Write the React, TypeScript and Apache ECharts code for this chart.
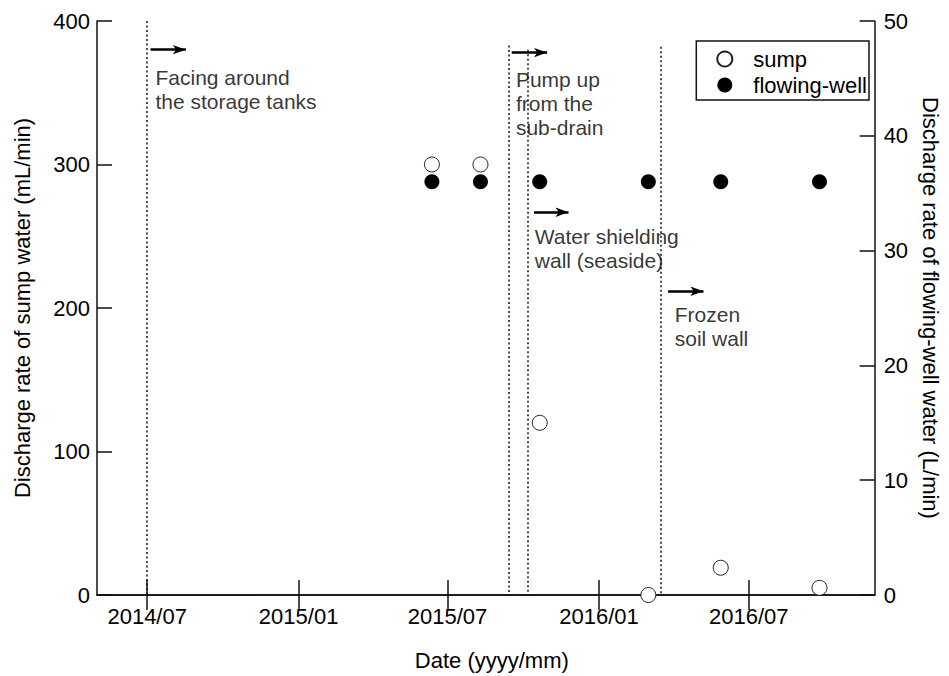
import React, { useEffect, useRef } from "react";
import * as echarts from "echarts";

// ---- data ----
const sampleDates = ["2015-06-12", "2015-08-10", "2015-10-21", "2016-03-01", "2016-05-28", "2016-09-25"];
const sumpValues = [300, 300, 120, 0, 19, 5];
const wellValues = [36, 36, 36, 36, 36, 36];
const xTickDates = ["2014-07-01", "2015-01-01", "2015-07-01", "2016-01-01", "2016-07-01"];
const xTickLabels = ["2014/07", "2015/01", "2015/07", "2016/01", "2016/07"];
const eventDates = ["2014-07-01", "2015-09-13", "2015-10-06", "2016-03-16"];
const eventLabels = [
  "Facing around\nthe storage tanks",
  "Pump up\nfrom the\nsub-drain",
  "Water shielding\nwall (seaside)",
  "Frozen\nsoil wall",
];

// ---- layout of annotations (data coordinates) ----
const eventLineTop = [400, 383, 380, 382];
const arrowSpans = [
  ["2014-07-05", "2014-08-17", 380],
  ["2015-09-17", "2015-10-30", 378],
  ["2015-10-14", "2015-11-25", 266.7],
  ["2016-03-25", "2016-05-07", 211.7],
];
const labelAnchors = [
  ["2014-07-08", 352.4],
  ["2015-09-19", 342.8],
  ["2015-10-12", 241.7],
  ["2016-03-30", 186.9],
];

const t = (s: string) => {
  const [y, m, d] = s.split("-").map(Number);
  return new Date(y, m - 1, d).getTime();
};

const FONT = "Liberation Sans";
const FS = 22;
const INK = "#111";

export default function App() {
  const ref = useRef<HTMLDivElement>(null);
  useEffect(() => {
    if (!ref.current) return;
    const chart = echarts.init(ref.current, undefined, { renderer: "svg" });
    const xMin = t("2014-05-01");
    const xMax = t("2016-12-01");
    const tickVals = xTickDates.map(t);
    const labelFor = (v: number) => {
      let best = 0;
      tickVals.forEach((tv, i) => {
        if (Math.abs(tv - v) < Math.abs(tickVals[best] - v)) best = i;
      });
      return xTickLabels[best];
    };

    const axisLine = { show: true, lineStyle: { color: INK, width: 1.5 } };
    const inTick = { show: true, inside: true, length: 15, lineStyle: { color: INK, width: 1.5 } };
    const textStyle = { fontFamily: FONT, fontSize: FS, color: "#000" };

    const option: any = {
      animation: false,
      backgroundColor: "#fff",
      textStyle: { fontFamily: FONT },
      grid: { left: 97, right: 67, top: 21, bottom: 75, containLabel: false },
      legend: {
        right: 80,
        top: 41,
        orient: "vertical",
        data: ["sump", "flowing-well"],
        itemWidth: 15,
        itemHeight: 15,
        itemGap: 4,
        padding: [7, 2, 4, 20],
        borderColor: INK,
        borderWidth: 1.5,
        textStyle: { ...textStyle, padding: [0, 0, 0, 16] },
      },
      xAxis: [
        {
          type: "value",
          min: xMin,
          max: xMax,
          axisLine,
          axisTick: { ...inTick, customValues: tickVals },
          axisLabel: {
            ...textStyle,
            margin: 10,
            customValues: tickVals,
            formatter: (v: number) => labelFor(v),
          },
          splitLine: { show: false },
          name: "Date (yyyy/mm)",
          nameLocation: "middle",
          nameGap: 54,
          nameTextStyle: { ...textStyle, padding: [0, 0, 0, 12] },
        },
        {
          type: "value",
          position: "top",
          min: xMin,
          max: xMax,
          axisLine,
          axisTick: { ...inTick, customValues: tickVals },
          axisLabel: { show: false, customValues: tickVals },
          splitLine: { show: false },
        },
      ],
      yAxis: [
        {
          type: "value",
          min: 0,
          max: 400,
          interval: 100,
          axisLine,
          axisTick: inTick,
          axisLabel: { ...textStyle, margin: 7 },
          splitLine: { show: false },
          name: "Discharge rate of sump water (mL/min)",
          nameLocation: "middle",
          nameGap: 64,
          nameTextStyle: textStyle,
        },
        {
          type: "value",
          position: "right",
          min: 0,
          max: 50,
          interval: 10,
          axisLine,
          axisTick: inTick,
          axisLabel: { ...textStyle, margin: 9 },
          splitLine: { show: false },
          name: "Discharge rate of flowing-well water (L/min)",
          nameLocation: "middle",
          nameRotate: -90,
          nameGap: 42,
          nameTextStyle: textStyle,
        },
      ],
      series: [
        {
          name: "events",
          type: "scatter",
          xAxisIndex: 0,
          yAxisIndex: 0,
          z: 1,
          silent: true,
          symbolSize: 0,
          data: [],
          markLine: {
            silent: true,
            symbol: ["none", "none"],
            label: { show: false },
            lineStyle: { color: INK, width: 1.5, type: [2, 2.5] },
            data: eventDates.map((d, i) => [
              { coord: [t(d), eventLineTop[i]] },
              { coord: [t(d), 0] },
            ]),
          },
        },
        {
          name: "labels",
          type: "scatter",
          xAxisIndex: 0,
          yAxisIndex: 0,
          z: 3,
          silent: true,
          symbolSize: 1,
          itemStyle: { color: "rgba(0,0,0,0)" },
          data: labelAnchors.map((a, i) => ({
            value: [t(a[0] as string), a[1]],
            label: {
              show: true,
              position: "right",
              distance: 0,
              formatter: eventLabels[i],
              ...textStyle,
              fontSize: 21,
              lineHeight: 24,
              align: "left",
              backgroundColor: "#fff",
              padding: [1, 2, 1, 2],
            },
          })),
          markLine: {
            silent: true,
            symbol: ["none", "arrow"],
            symbolSize: [7, 13],
            label: { show: false },
            lineStyle: { color: "#000", width: 2.5, type: "solid" },
            data: arrowSpans.map((a) => [
              { coord: [t(a[0] as string), a[2]] },
              { coord: [t(a[1] as string), a[2]] },
            ]),
          },
        },
        {
          name: "sump",
          type: "scatter",
          xAxisIndex: 0,
          yAxisIndex: 0,
          z: 4,
          symbol: "circle",
          symbolSize: 15,
          itemStyle: { color: "#fff", borderColor: "#222", borderWidth: 1, opacity: 1 },
          data: sampleDates.map((d, i) => [t(d), sumpValues[i]]),
        },
        {
          name: "flowing-well",
          type: "scatter",
          xAxisIndex: 0,
          yAxisIndex: 1,
          z: 4,
          symbol: "circle",
          symbolSize: 15,
          itemStyle: { color: "#000", opacity: 1 },
          data: sampleDates.map((d, i) => [t(d), wellValues[i]]),
        },
      ],
    };
    chart.setOption(option);
    return () => chart.dispose();
  }, []);
  return (
    <div
      ref={ref}
      style={{ position: "absolute", left: 0, top: 0, width: 949, height: 676, background: "#fff" }}
    />
  );
}
